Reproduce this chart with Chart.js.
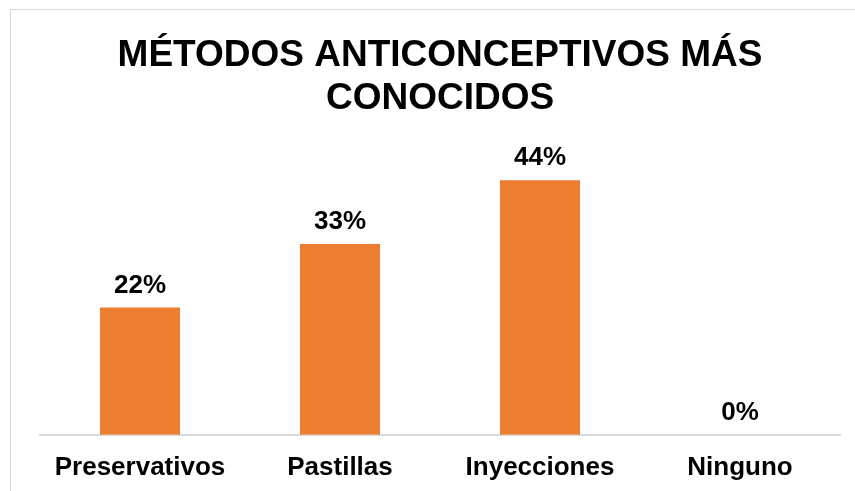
<!DOCTYPE html>
<html>
<head>
<meta charset="utf-8">
<script src="https://cdn.jsdelivr.net/npm/chart.js@4.4.0/dist/chart.umd.min.js"></script>
<style>
  body { margin: 0; overflow: hidden; background: #fff; }
  #frame { position: absolute; left: 10px; top: 9px; width: 900px; height: 600px; border: 1px solid #d9d9d9; }
  #wrap { position: absolute; left: 0; top: 0; width: 855px; height: 491px; }
</style>
</head>
<body>
<div id="frame"></div>
<div id="wrap"><canvas id="myChart" width="855" height="491"></canvas></div>
<script>
var categorias = ['Preservativos', 'Pastillas', 'Inyecciones', 'Ninguno'];
var porcentajes = [22, 33, 44, 0];
var titulo = ['MÉTODOS ANTICONCEPTIVOS MÁS', 'CONOCIDOS'];

// etiquetas encima de cada barra
var etiquetas = {
    id: 'etiquetas',
    afterDatasetsDraw: function(chart){
        var ctx = chart.ctx;
        var meta = chart.getDatasetMeta(0);
        ctx.save();
        ctx.font = 'bold 26px "Liberation Sans", Arial, sans-serif';
        ctx.fillStyle = '#000';
        ctx.textAlign = 'center';
        ctx.textBaseline = 'middle';
        meta.data.forEach(function(bar, i){
            ctx.fillText(porcentajes[i] + '%', bar.x, bar.y - 22);
        });
        ctx.restore();
    }
};

var ctx = document.getElementById("myChart").getContext('2d');
var myChart = new Chart(ctx, {
    type: 'bar',
    data: {
        labels: categorias,
        datasets: [{
            data: porcentajes,
            backgroundColor: '#ED7D31',
            borderWidth: 0,
            barPercentage: 0.4,
            categoryPercentage: 1
        }]
    },
    options: {
        responsive: false,
        animation: false,
        layout: { padding: { left: 40, right: 15, top: 14, bottom: -9 } },
        plugins: {
            legend: { display: false },
            tooltip: { enabled: false },
            title: {
                display: true,
                text: titulo,
                color: '#000',
                font: { family: '"Liberation Sans", Arial, sans-serif', size: 37, weight: 'bold', lineHeight: 1.17 },
                padding: { top: 20, bottom: 25 }
            }
        },
        scales: {
            x: {
                grid: { display: false, drawTicks: false },
                border: { color: '#d9d9d9', width: 2 },
                ticks: {
                    color: '#000',
                    padding: 17,
                    font: { family: '"Liberation Sans", Arial, sans-serif', size: 26, weight: 'bold' }
                }
            },
            y: {
                display: false,
                min: 0,
                max: 50
            }
        }
    },
    plugins: [etiquetas]
});
</script>
</body>
</html>
